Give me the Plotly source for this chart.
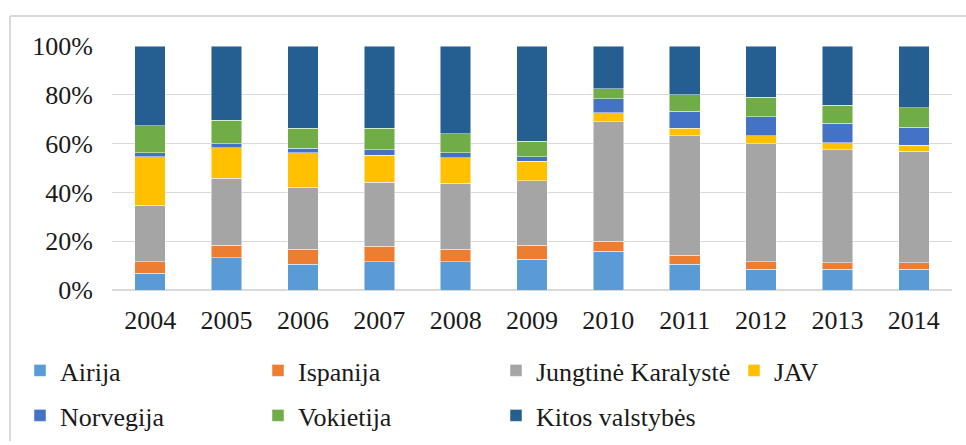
import plotly.graph_objects as go

years = ["2004", "2005", "2006", "2007", "2008", "2009", "2010", "2011", "2012", "2013", "2014"]

airija = [6.8, 13.2, 10.5, 11.6, 11.6, 12.6, 15.8, 10.6, 8.5, 8.5, 8.5]
ispanija = [4.8, 5.2, 6.3, 6.4, 5.2, 5.8, 4.1, 3.6, 3.1, 2.6, 2.6]
jungtine = [23.2, 27.4, 25.4, 26.2, 26.9, 26.3, 49.0, 49.0, 48.4, 46.3, 45.7]
jav = [19.8, 12.6, 14.0, 11.1, 10.5, 8.0, 3.8, 3.1, 3.2, 3.0, 2.5]
norvegija = [1.6, 1.6, 1.8, 2.1, 2.1, 2.0, 5.6, 7.0, 7.9, 7.9, 7.5]
vokietija = [11.1, 9.6, 8.3, 8.9, 7.8, 6.3, 4.2, 6.8, 7.8, 7.4, 7.8]
kitos = [32.7, 30.4, 33.7, 33.7, 35.9, 39.0, 17.5, 19.9, 21.1, 24.3, 25.4]

# name, values, colour, legend row
series = [
    ("Airija", airija, "#5B9BD5", "legend"),
    ("Ispanija", ispanija, "#ED7D31", "legend"),
    ("Jungtinė Karalystė", jungtine, "#A5A5A5", "legend"),
    ("JAV", jav, "#FFC000", "legend"),
    ("Norvegija", norvegija, "#4472C4", "legend2"),
    ("Vokietija", vokietija, "#70AD47", "legend2"),
    ("Kitos valstybės", kitos, "#255E91", "legend2"),
]

W, H = 966, 445
L, R, T, B = 112, 14, 46, 155

fig = go.Figure()
for name, vals, color, leg in series:
    fig.add_trace(go.Bar(
        x=years, y=vals, name=name, legend=leg,
        marker=dict(color=color, line=dict(color="rgba(255,255,255,0.6)", width=0.8)),
    ))

font = dict(family="Liberation Serif", size=26, color="#1a1a1a")

pw, ph = W - L - R, H - T - B


def legend_box(top_px):
    return dict(orientation="h", x=(20 - L) / pw, xanchor="left",
                y=(H - B - top_px) / ph, yanchor="top",
                entrywidth=193, entrywidthmode="pixels", traceorder="normal",
                font=font, itemwidth=30, bgcolor="rgba(0,0,0,0)")


fig.update_layout(
    width=W, height=H,
    margin=dict(l=L, r=R, t=T, b=B, autoexpand=False),
    barmode="stack", barnorm="percent", bargap=0.6,
    plot_bgcolor="white", paper_bgcolor="white",
    font=font,
    xaxis=dict(showgrid=False, showline=False, ticks="", ticklabelstandoff=12,
               tickfont=font),
    yaxis=dict(range=[0, 100], dtick=20, ticksuffix="%", showgrid=True,
               gridcolor="#d9d9d9", gridwidth=1, zeroline=True, zerolinecolor="#d9d9d9",
               ticks="", ticklabelstandoff=18, tickfont=font),
    legend=legend_box(347),
    legend2=legend_box(392),
    showlegend=True,
)

# frame lines (left and top) around the whole chart
x0 = (10 - L) / pw
y0 = (H - B - 16) / ph
fig.add_shape(type="line", xref="paper", yref="paper", x0=x0, x1=x0, y0=(H - B - 441) / ph, y1=y0,
              line=dict(color="#d9d9d9", width=2))
fig.add_shape(type="line", xref="paper", yref="paper", x0=x0, x1=(W + 5 - L) / pw, y0=y0, y1=y0,
              line=dict(color="#d9d9d9", width=2))

fig.write_html("out.html", config={"displayModeBar": False},
               post_script="document.body.style.margin='0';")
